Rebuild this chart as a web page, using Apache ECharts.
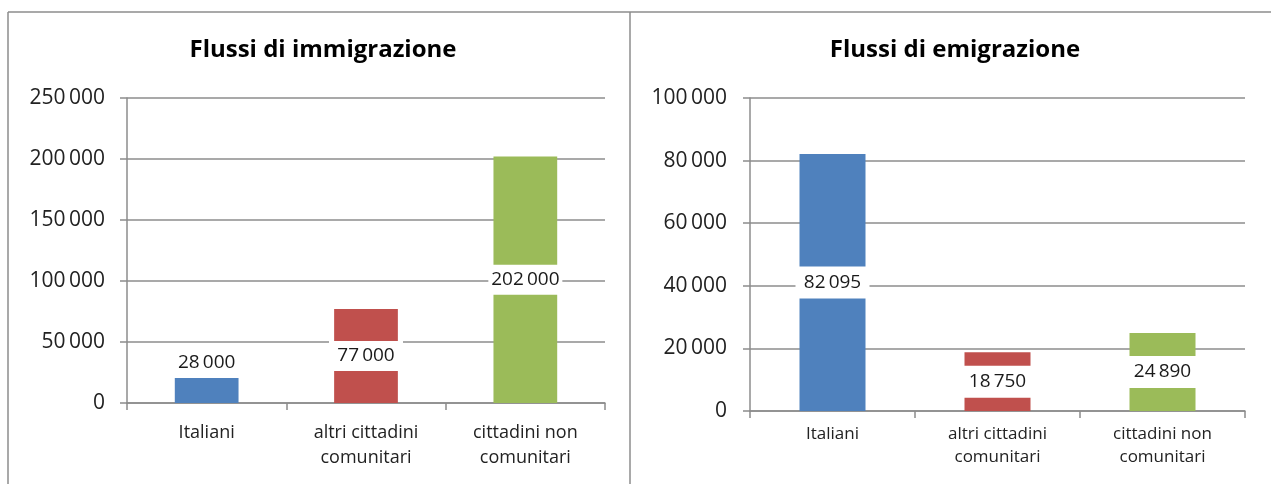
<!DOCTYPE html>
<html><head><meta charset="utf-8">
<script src="https://cdn.jsdelivr.net/npm/echarts@6/dist/echarts.min.js"></script>
<style>html,body{margin:0;padding:0;background:#fff}#c{width:1271px;height:484px}</style>
</head><body><div id="c"></div>
<script>
const categories = ['Italiani', 'altri cittadini\ncomunitari', 'cittadini non\ncomunitari'];
const immigrazione = [28000, 77000, 202000];
const emigrazione = [82095, 18750, 24890];
const colors = ['#4F81BD', '#C0504D', '#9BBB59'];
const titles = ['Flussi di immigrazione', 'Flussi di emigrazione'];

const fmt = v => String(Math.round(v)).replace(/\B(?=(\d{3})+(?!\d))/g, '\u2009');
const FONT = '"Open Sans", "Noto Sans", sans-serif';

function mkData(vals, specialOffsets) {
  return vals.map((v, i) => ({
    value: v,
    itemStyle: { color: colors[i] },
    label: specialOffsets && specialOffsets[i] ? { offset: specialOffsets[i] } : undefined
  }));
}
function lbl(fs, h) {
  return {
    show: true, position: 'inside', formatter: p => fmt(p.value),
    color: '#1a1a1a', fontSize: fs, fontFamily: FONT,
    backgroundColor: '#fff', width: 74, height: h, lineHeight: h, align: 'center', verticalAlign: 'middle', padding: 0
  };
}
const lineCol = '#8c8c8c';
const axisCommon = {
  axisLine: { show: true, lineStyle: { color: lineCol, width: 1.5 } },
  axisTick: { show: true, length: 7, lineStyle: { color: lineCol, width: 1.5 } }
};

const chart = echarts.init(document.getElementById('c'), null, { renderer: 'canvas' });
chart.setOption({
  animation: false,
  title: [
    { text: titles[0], left: 318, top: 33, textAlign: 'center', textStyle: { fontFamily: FONT, fontWeight: 'bold', fontSize: 24, color: '#000' } },
    { text: titles[1], left: 950, top: 33, textAlign: 'center', textStyle: { fontFamily: FONT, fontWeight: 'bold', fontSize: 24, color: '#000' } }
  ],
  grid: [
    { left: 127, right: 666, top: 98, bottom: 81 },
    { left: 750, right: 26, top: 98, bottom: 73 }
  ],
  xAxis: [0, 1].map(g => Object.assign({
    type: 'category', gridIndex: g, data: categories,
    axisLabel: { fontFamily: FONT, fontSize: g === 0 ? 18 : 17, color: '#222', margin: g === 0 ? 17 : 12, lineHeight: g === 0 ? 25 : 23, interval: 0 },
    splitLine: { show: false }
  }, axisCommon)),
  yAxis: [
    Object.assign({
      type: 'value', gridIndex: 0, min: 0, max: 250000, interval: 50000,
      axisLabel: { formatter: fmt, fontFamily: FONT, fontSize: 21, color: '#222', margin: 22 },
      splitLine: { show: true, lineStyle: { color: lineCol, width: 1.5 } }
    }, axisCommon),
    Object.assign({
      type: 'value', gridIndex: 1, min: 0, max: 100000, interval: 20000,
      axisLabel: { formatter: fmt, fontFamily: FONT, fontSize: 21, color: '#222', margin: 23 },
      splitLine: { show: true, lineStyle: { color: lineCol, width: 1.5 } }
    }, axisCommon)
  ],
  series: [
    { type: 'bar', xAxisIndex: 0, yAxisIndex: 0, barWidth: '40%', data: mkData(immigrazione, [[0, -23], null, null]), label: lbl(19, 30) },
    { type: 'bar', xAxisIndex: 1, yAxisIndex: 1, barWidth: '40%', data: mkData(emigrazione, null), label: lbl(19, 32) }
  ],
  graphic: [
    { type: 'line', shape: { x1: 8, y1: 12, x2: 1271, y2: 12 }, style: { stroke: lineCol, lineWidth: 1.5 } },
    { type: 'line', shape: { x1: 8, y1: 12, x2: 8, y2: 484 }, style: { stroke: lineCol, lineWidth: 1.5 } },
    { type: 'line', shape: { x1: 630, y1: 12, x2: 630, y2: 484 }, style: { stroke: lineCol, lineWidth: 1.5 } }
  ]
});
</script></body></html>
